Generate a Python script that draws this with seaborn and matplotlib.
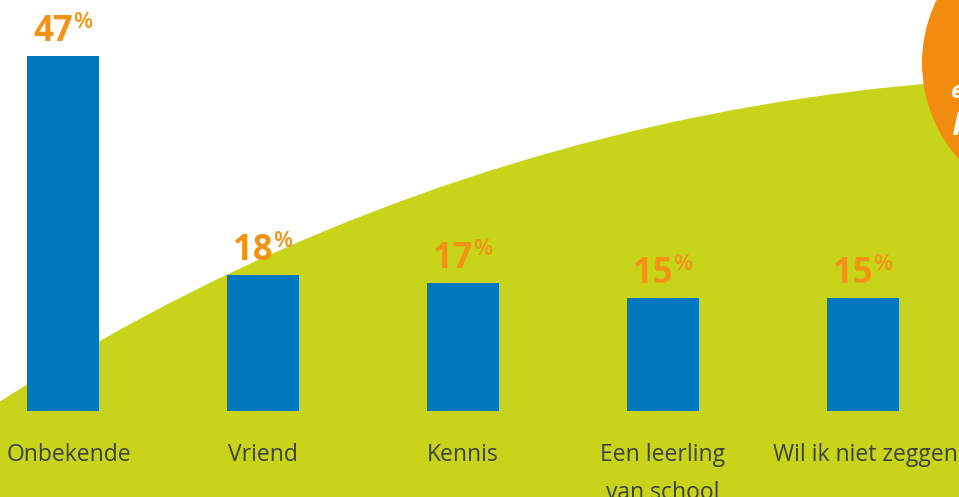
import matplotlib
matplotlib.use("Agg")
import matplotlib.pyplot as plt
import matplotlib.patches as mpatches
import matplotlib.transforms as mtransforms
import seaborn as sns

categories = ["Onbekende", "Vriend", "Kennis", "Een leerling\nvan school", "Wil ik niet zeggen"]
values = [47, 18, 17, 15, 15]
pct_labels = ["47", "18", "17", "15", "15"]

BLUE = "#0078BF"
GREEN = "#C8D41A"
ORANGE = "#F28C0F"
LABEL_ORANGE = "#F39314"
GRAY = "#404040"

sns.set_theme(style="white")
plt.rcParams["font.family"] = ["Open Sans", "DejaVu Sans"]

W, H = 959, 497
fig = plt.figure(figsize=(W / 100, H / 100), dpi=100)
ax = fig.add_axes([0, 0, 1, 1])
ax.set_facecolor("white")

# background decorations (pixel coordinates)
ident = mtransforms.IdentityTransform()
green = mpatches.Circle((1103, H - 2108), 2032, facecolor=GREEN, edgecolor="none",
                        transform=ident, zorder=0)
ax.add_patch(green)
orange = mpatches.Circle((1066, H - 63), 144, facecolor=ORANGE, edgecolor="none",
                         transform=ident, zorder=1)
ax.add_patch(orange)

sns.barplot(x=categories, y=values, color=BLUE, saturation=1, width=0.36,
            edgecolor="none", linewidth=0, ax=ax, zorder=2)

px_per_unit = 355 / 47.0
base_px = 411
ax.set_xlim(-63 / 200, (W - 63) / 200)
ax.set_ylim(-(H - base_px) / px_per_unit, base_px / px_per_unit)
ax.axis("off")

for i, (v, lab) in enumerate(zip(values, pct_labels)):
    ax.annotate(lab, xy=(i, v), xytext=(10, 15), textcoords="offset pixels",
                ha="right", va="baseline", fontsize=25, fontweight="bold",
                color=LABEL_ORANGE, zorder=5)
    ax.annotate("%", xy=(i, v), xytext=(10, 28), textcoords="offset pixels",
                ha="left", va="baseline", fontsize=16, fontweight="semibold",
                color=LABEL_ORANGE, zorder=5)

label_dx = [0.03, 0, 0, 0, 0.01]
for i, cat in enumerate(categories):
    lines = cat.split("\n")
    for j, line in enumerate(lines):
        ypix = 461 + 38 * j
        ax.text(i + label_dx[i], (base_px - ypix) / px_per_unit, line, ha="center",
                va="baseline", fontsize=16.5, color=GRAY, zorder=5)

# partially visible text in the orange circle
fig.text(951 / W, (H - 98) / H, "e", color="white", fontsize=17, fontweight="bold",
         fontstyle="italic", ha="left", va="baseline")
fig.text(951 / W, (H - 135) / H, "I", color="white", fontsize=24, fontweight="bold",
         fontstyle="italic", ha="left", va="baseline")

fig.savefig("out.png", dpi=100, facecolor="white")
